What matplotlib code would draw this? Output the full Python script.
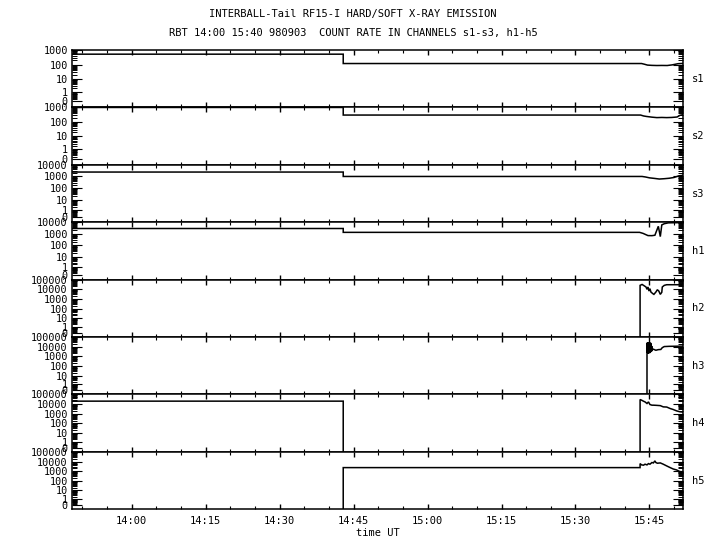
import numpy as np
import matplotlib
matplotlib.use("Agg")
import matplotlib.pyplot as plt
from matplotlib.ticker import FixedLocator, FixedFormatter, NullFormatter

plt.rcParams['font.family'] = ['DejaVu Sans Mono', 'DejaVu Sans']

# times are minutes after 14:00 UT, values are count rates
channels = ['s1', 's2', 's3', 'h1', 'h2', 'h3', 'h4', 'h5']
top_decade = [3, 3, 4, 4, 5, 5, 5, 5]

s1_t = [-12.1, 42.9, 42.9, 103.4, 104.0, 104.6, 105.5, 106.5, 107.5, 108.6, 109.6, 110.8, 111.8]
s1_c = [520, 520, 118, 118, 105, 92, 88, 86, 87, 86, 95, 115, 120]

s2_t = [-12.1, 42.9, 42.9, 103.2, 103.8, 104.4, 105.5, 106.5, 107.5, 108.5, 109.5, 110.6, 111.2, 111.8]
s2_c = [1000, 1000, 300, 300, 260, 240, 215, 200, 205, 200, 205, 220, 290, 320]

s3_t = [-12.1, 42.9, 42.9, 103.5, 104.2, 105.0, 106.0, 107.0, 108.0, 109.0, 110.0, 111.0, 111.8]
s3_c = [2400, 2400, 1000, 1000, 900, 760, 680, 600, 640, 700, 820, 1150, 1250]

h1_t = [-12.1, 42.9, 42.9, 103.0, 103.7, 104.7, 105.5, 106.1, 106.8, 107.2, 107.5, 108.0, 108.8, 111.8]
h1_c = [2900, 2900, 1350, 1350, 1100, 710, 700, 760, 4500, 580, 5900, 7500, 8900, 9500]

h2_t = [-12.1, 103.1, 103.1, 103.5, 103.8, 104.3, 104.5, 104.7, 104.9, 105.1, 105.3, 105.7,
        105.9, 106.3, 106.6, 106.9, 107.2, 107.5, 107.6, 108.0, 108.5, 111.8]
h2_c = [0, 0, 25700, 32000, 25700, 17400, 10000, 17400, 6600, 11700, 5200, 3500,
        3000, 5200, 9100, 6600, 3000, 4900, 17400, 25700, 30000, 30000]

h3_t = [-12.1, 104.5, 104.5, 104.55, 104.6, 104.65, 104.7, 104.75, 104.8, 104.85, 104.9,
        104.95, 105.0, 105.05, 105.1, 105.15, 105.2, 105.25, 105.3, 105.35, 105.4, 105.45,
        105.5, 105.6, 105.8, 106.3, 106.8, 107.3, 107.6, 108.0, 109.0, 111.8]
h3_c = [0, 0, 1800, 26000, 2500, 29000, 3000, 22000, 1900, 27000, 2600, 24000, 3200,
        28000, 2200, 20000, 3500, 25000, 2800, 16000, 4000, 12000, 3500, 6000, 5500,
        4300, 5000, 5200, 8000, 10400, 11000, 11500]

h4_t = [-12.1, 42.9, 42.9, 103.1, 103.1, 103.4, 103.8, 104.1, 104.5, 104.8, 105.1, 105.5,
        105.8, 106.4, 107.2, 107.8, 108.5, 109.2, 109.8, 110.5, 111.2, 111.8]
h4_c = [20400, 20400, 0, 0, 30000, 25700, 20000, 17000, 11700, 17000, 9100, 7800,
        7800, 7500, 7000, 5200, 5000, 3500, 2800, 2000, 1600, 1500]

h5_t = [-12.1, 42.9, 42.9, 103.1, 103.1, 103.4, 103.8, 104.1, 104.5, 104.8, 105.1, 105.5,
        105.8, 106.1, 106.3, 106.6, 107.2, 107.8, 108.5, 109.2, 109.8, 110.5, 111.2, 111.8]
h5_c = [0, 0, 2350, 2350, 6100, 4500, 4200, 5300, 4500, 6100, 5300, 7900,
        7200, 11700, 7900, 6700, 7200, 5300, 3500, 2350, 1700, 1350, 900, 850]

series_t = [s1_t, s2_t, s3_t, h1_t, h2_t, h3_t, h4_t, h5_t]
series_c = [s1_c, s2_c, s3_c, h1_c, h2_c, h3_c, h4_c, h5_c]

time_ticks = [0, 15, 30, 45, 60, 75, 90, 105]
time_labels = ['14:00', '14:15', '14:30', '14:45', '15:00', '15:15', '15:30', '15:45']
time_minor = list(range(-10, 115, 5))

title1 = 'INTERBALL-Tail RF15-I HARD/SOFT X-RAY EMISSION'
title2 = 'RBT 14:00 15:40 980903  COUNT RATE IN CHANNELS s1-s3, h1-h5'

OFFSET = 0.3


def fwd(y):
    return np.log10(np.clip(np.asarray(y, dtype=float) + OFFSET, 1e-6, None))


def inv(g):
    return 10.0 ** np.asarray(g, dtype=float) - OFFSET


fig, axes = plt.subplots(8, 1, sharex=True, figsize=(7.2, 5.5), dpi=100)
plt.subplots_adjust(left=0.1, right=0.9486, top=0.909, bottom=0.074, hspace=0)

for ax, name, n, t, c in zip(axes, channels, top_decade, series_t, series_c):
    c = np.array(c, dtype=float)
    # zero counts drop off the bottom of the panel
    c = np.where(c > 0, c, -0.29)
    ax.set_yscale('function', functions=(fwd, inv))
    ax.plot(t, c, color='black', lw=1.1, solid_joinstyle='miter')
    ax.set_ylim(inv(-0.95), 10.0 ** n)
    ax.set_xlim(-12.1, 111.8)

    yt = [0] + [10 ** k for k in range(n + 1)]
    ax.yaxis.set_major_locator(FixedLocator(yt))
    ax.yaxis.set_major_formatter(FixedFormatter([str(v) for v in yt]))
    ymin = [m * 10.0 ** k for k in range(-1, n) for m in range(1, 10) if not (m == 1 and k >= 0)]
    ax.yaxis.set_minor_locator(FixedLocator(ymin))
    ax.yaxis.set_minor_formatter(NullFormatter())

    ax.xaxis.set_major_locator(FixedLocator(time_ticks))
    ax.xaxis.set_major_formatter(FixedFormatter(time_labels))
    ax.xaxis.set_minor_locator(FixedLocator(time_minor))

    ax.tick_params(axis='y', which='major', direction='in', length=7.5, width=0.8,
                   left=True, right=True, labelsize=7.3, pad=3)
    ax.tick_params(axis='y', which='minor', direction='in', length=3.6, width=0.7,
                   left=True, right=True)
    ax.tick_params(axis='x', which='major', direction='in', length=3.4, width=1.0,
                   top=True, bottom=True, labelsize=7.5, pad=5)
    ax.tick_params(axis='x', which='minor', direction='in', length=2.0, width=0.8,
                   top=True, bottom=True)
    for sp in ax.spines.values():
        sp.set_linewidth(1.1)

    ax.text(1.025, 0.5, name, transform=ax.transAxes, ha='center', va='center', fontsize=7.5)

axes[-1].set_xlabel('time UT', fontsize=7.5, labelpad=1)

fig.text(353 / 720, 1 - 14 / 550, title1, ha='center', va='center', fontsize=7.5)
fig.text(353 / 720, 1 - 33 / 550, title2, ha='center', va='center', fontsize=7.5)

fig.savefig('out.png', dpi=100)
